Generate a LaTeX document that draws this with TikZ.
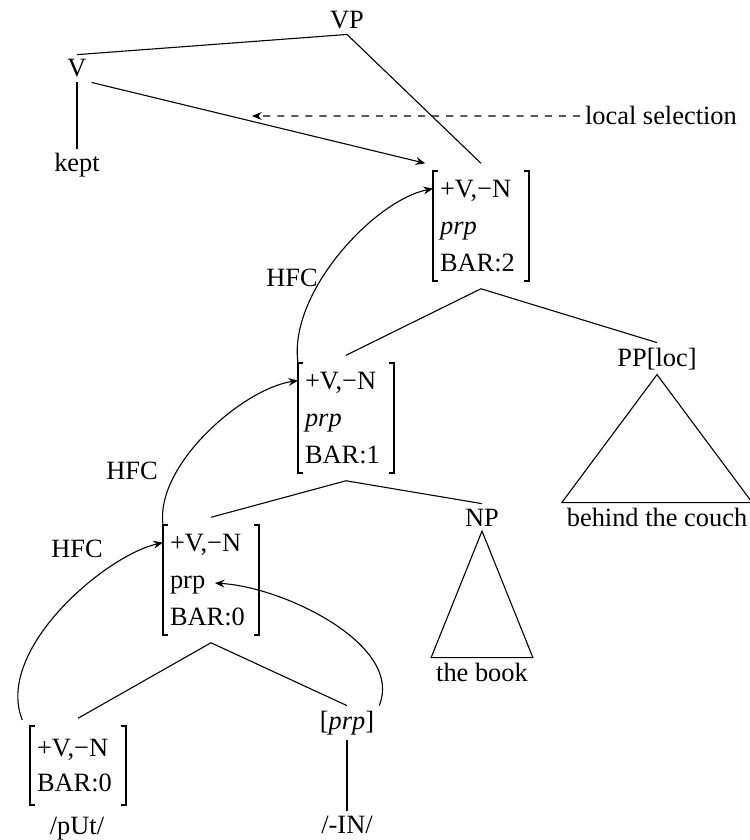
\documentclass[tikz,border=0pt]{standalone}
\usepackage{fontspec}
\setmainfont{Liberation Serif}
\usetikzlibrary{arrows.meta}

% square brackets round a feature matrix node
\newcommand\matbrackets[1]{%
  \draw[brk] ([xshift=2.3pt]#1.north west) -- (#1.north west) -- (#1.south west) -- ([xshift=2.3pt]#1.south west);
  \draw[brk] ([xshift=-2.3pt]#1.north east) -- (#1.north east) -- (#1.south east) -- ([xshift=-2.3pt]#1.south east);}

\begin{document}
\begin{tikzpicture}[x=0.4545pt, y=-0.4545pt, line width=0.5pt,
  lbl/.style={anchor=base, inner sep=0pt, outer sep=2.3pt, font=\fontsize{12}{14.4}\selectfont},
  fs/.style={anchor=north west, align=left, text width=37.2pt, inner xsep=3.2pt, inner ysep=4pt,
             outer sep=0pt, font=\fontsize{12}{17}\selectfont},
  fs2/.style={fs, inner ysep=6pt, font=\fontsize{12}{16}\selectfont},
  branch/.style={draw, line width=0.5pt},
  brk/.style={line width=0.85pt},
  arr/.style={-{Stealth[length=4.4pt,width=3.6pt,inset=1.5pt]}},
  hfc/.style={draw, arr, line width=0.5pt},
  selline/.style={draw, arr, line width=0.5pt, dash pattern=on 3.2pt off 3.2pt}]
\useasboundingbox (0,0) rectangle (749,840);

% labels
\node[lbl] (VP) at (347,29) {VP};
\node[lbl] (V) at (77,77) {V};
\node[lbl] (kept) at (77,172) {kept};
\node[lbl, anchor=base west] (ls) at (580,125) {local selection};
\node[lbl] (pp) at (657,366) {PP[loc]};
\node[lbl] (bc) at (657,526) {behind the couch};
\node[lbl] (np) at (482,526) {NP};
\node[lbl] (tb) at (482,681) {the book};
\node[lbl] (suf) at (347,729) {[\textit{prp}]};
\node[lbl] (in) at (347,833) {/-IN/};
\node[lbl] (put) at (77,834) {/pUt/};
\node[lbl] (h2) at (292,286) {HFC};
\node[lbl] (h1) at (132,479) {HFC};
\node[lbl] (h0) at (77,557) {HFC};
\coordinate (lsend) at (252,116);

% feature matrices
\node[fs] (b2) at (433,171) {+V,−N\\\textit{prp}\\BAR:2};
\node[fs] (b1) at (298,363) {+V,−N\\\textit{prp}\\BAR:1};
\node[fs] (b0) at (163,525) {+V,−N\\prp\\BAR:0};
\node[fs2] (bl) at (30,726) {+V,−N\\BAR:0};
\matbrackets{b2}
\matbrackets{b1}
\matbrackets{b0}
\matbrackets{bl}

% tree branches
\draw[branch] (V.north) -- (VP.south) -- ([yshift=3.5pt]b2.north);
\draw[branch] (V.south) -- (kept.north);
\draw[branch] ([yshift=3.5pt]b1.north) -- ([yshift=-3.5pt]b2.south) -- (pp.north);
\draw[branch] (pp.south) -- (bc.north west) -- (bc.north east) -- cycle;
\draw[branch] ([yshift=3.5pt]b0.north) -- ([yshift=-3.5pt]b1.south) -- (np.north);
\draw[branch] (np.south) -- (tb.north west) -- (tb.north east) -- cycle;
\draw[branch] ([yshift=3.5pt]bl.north) -- ([yshift=-3.5pt]b0.south) -- (suf.north);
\draw[branch] (suf.south) -- (in.north);

% selection arrows
\draw[branch, arr] (V.south east) -- ([shift={(-3.5pt,3.5pt)}]b2.north west);
\draw[selline] (ls.west) -- (lsend);

% head feature percolation
\draw[hfc] ([shift={(-3.5pt,2.7pt)}]bl.north west) .. controls +(-28,-70) and +(-58,13) .. ([yshift=-8pt]b0.north west);
\draw[hfc] (b0.north west) .. controls +(-8,-60) and +(-55,8) .. ([yshift=-8pt]b1.north west);
\draw[hfc] (b1.north west) .. controls +(-10,-70) and +(-59,12) .. ([yshift=-8pt]b2.north west);
\draw[hfc] (suf.north east) .. controls +(25,-60) and +(70,4) .. ([shift={(23.6pt,-26.4pt)}]b0.north west);
\end{tikzpicture}
\end{document}
